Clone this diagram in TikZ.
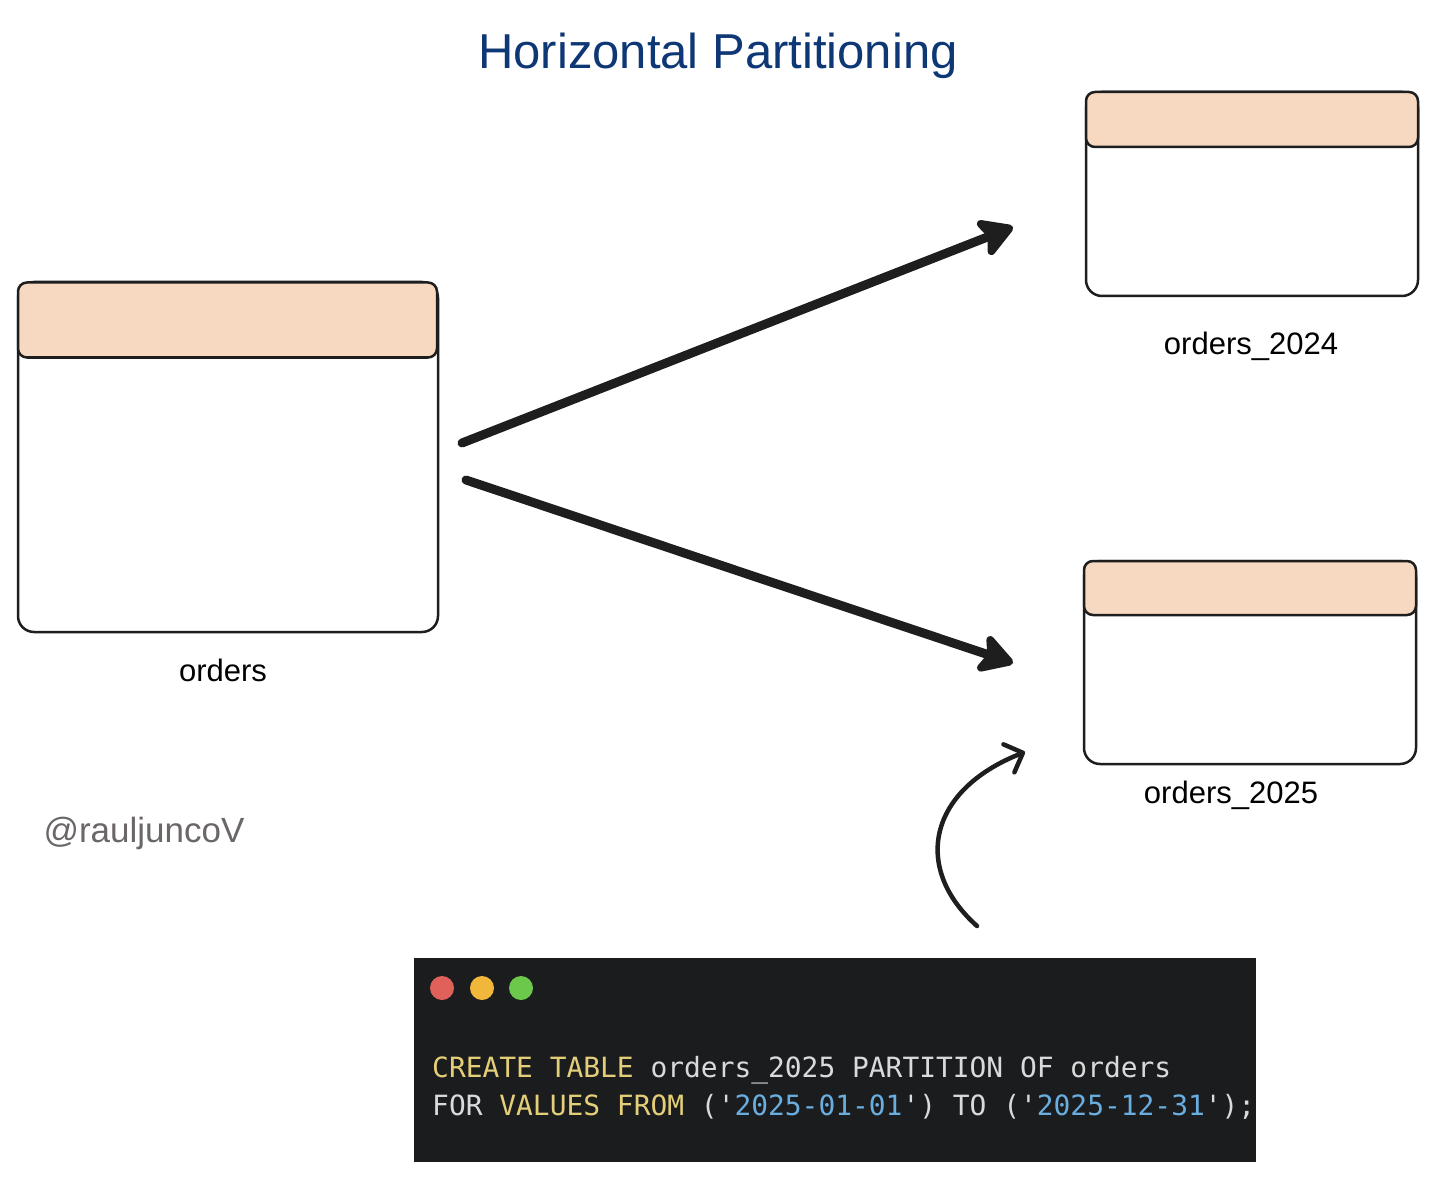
\documentclass[tikz,border=0pt]{standalone}
\usepackage{fontspec}
\setmainfont{Liberation Sans}
\newfontfamily\codefont{DejaVu Sans Mono}
\usetikzlibrary{arrows.meta}
\definecolor{ink}{HTML}{1E1E1E}
\definecolor{peach}{HTML}{F7D8C0}
\definecolor{titleblue}{HTML}{0E3775}
\definecolor{wmgray}{HTML}{6B6767}
\definecolor{codebg}{HTML}{1B1C1E}
\definecolor{kwyellow}{HTML}{E4CF78}
\definecolor{codewhite}{HTML}{DADADA}
\definecolor{strblue}{HTML}{6AAEE0}
\definecolor{dotred}{HTML}{E0605A}
\definecolor{dotyellow}{HTML}{F0B73A}
\definecolor{dotgreen}{HTML}{6CC84A}
\newcommand\sq{\char"27\relax}
\begin{document}
\begin{tikzpicture}[x=1pt,y=-1pt,
  tbl/.style={draw=ink, line width=2.5pt, fill=white, rounded corners=16pt, inner sep=0pt},
  hdr/.style={draw=ink, line width=2.5pt, fill=peach, rounded corners=9pt, inner sep=0pt},
  lbl/.style={font=\fontsize{31}{36}\selectfont, text=black, inner sep=0pt},
  bigarrow/.style={draw=ink, line width=9pt, line cap=round, -{Stealth[round, length=40pt, width=46pt, inset=9pt]}},
  curvearrow/.style={draw=ink, line width=4.5pt, line cap=round, -{Straight Barb[round, length=15pt, width=30pt]}},
  dot/.style={circle, inner sep=0pt, minimum size=24pt},
  codeline/.style={anchor=base west, inner sep=0pt, text=codewhite, font=\codefont\fontsize{27.9}{32}\selectfont}
]
\useasboundingbox (0,0) rectangle (1438,1182);
\fill[white] (0,0) rectangle (1438,1182);

% title
\node[font=\fontsize{49}{56}\selectfont, text=titleblue, inner sep=0pt] (title) at (718,56) {Horizontal Partitioning};

% orders table
\node[tbl, minimum width=420, minimum height=350] (orders) at (228,457) {};
\node[hdr, minimum width=419, minimum height=75] (ordersh) at (227.5,320) {};
\node[lbl] (ordersl) at (223,670) {orders};

% orders_2024
\node[tbl, minimum width=332, minimum height=204] (o24) at (1252,194) {};
\node[hdr, minimum width=332, minimum height=55] (o24h) at (1252,119.5) {};
\node[lbl] (o24l) at (1251,346) {orders\_2024};

% orders_2025
\node[tbl, minimum width=332, minimum height=203] (o25) at (1250,662.5) {};
\node[hdr, minimum width=332, minimum height=54] (o25h) at (1250,588) {};
\node[lbl] (o25l) at (1231,795) {orders\_2025};

% watermark
\node[font=\fontsize{35}{40}\selectfont, text=wmgray, inner sep=0pt] (wm) at (144,833) {@rauljuncoV};

% arrows
\coordinate (a1s) at (462,443);
\coordinate (a1e) at (1013,227);
\coordinate (a2s) at (466,480);
\coordinate (a2e) at (1013,663);
\draw[bigarrow] (a1s) -- (a1e);
\draw[bigarrow] (a2s) -- (a2e);

\coordinate (c1s) at (977,926);
\coordinate (c1e) at (1025,752);
\draw[curvearrow] (c1s) .. controls (912,868) and (928,790) .. (c1e);

% code block
\node[fill=codebg, minimum width=842, minimum height=204, inner sep=0pt] (code) at (835,1060) {};
\node[dot, fill=dotred] (d1) at (442,988) {};
\node[dot, fill=dotyellow] (d2) at (482,988) {};
\node[dot, fill=dotgreen] (d3) at (521,988) {};
\node[codeline] (cl1) at (432,1077) {{\color{kwyellow}CREATE TABLE} orders\_2025 PARTITION OF orders};
\node[codeline] (cl2) at (432,1115) {FOR {\color{kwyellow}VALUES FROM} (\sq{\color{strblue}2025-01-01}\sq) TO (\sq{\color{strblue}2025-12-31}\sq);};
\end{tikzpicture}
\end{document}
